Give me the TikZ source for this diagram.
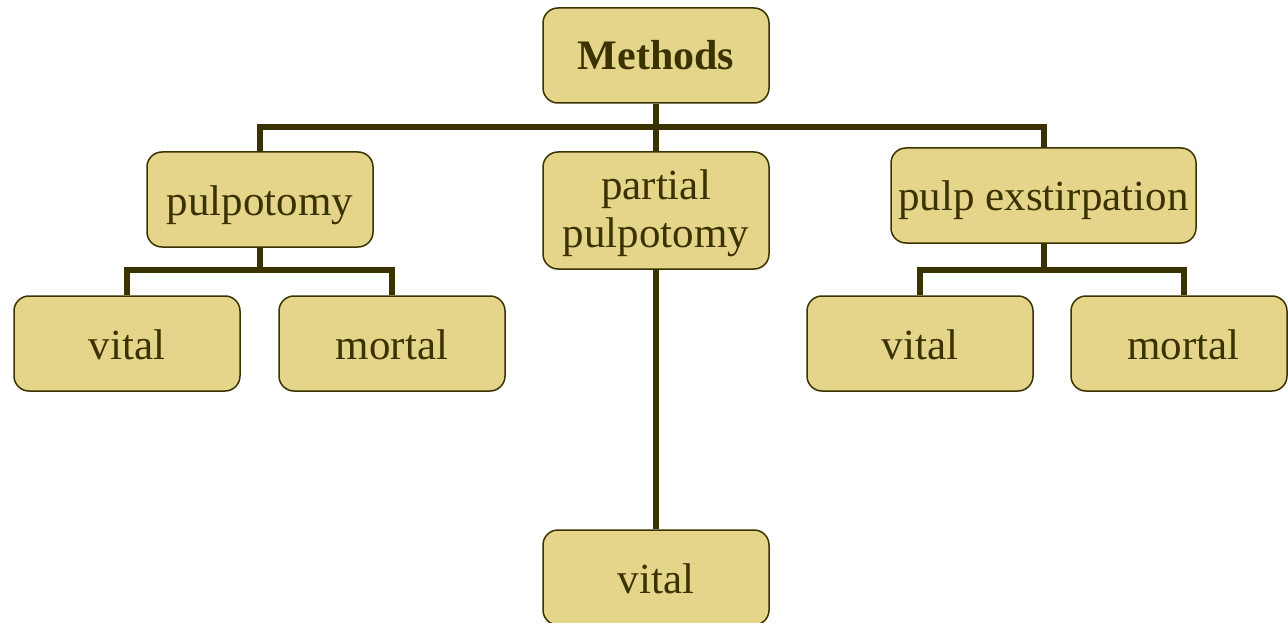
\documentclass[tikz,border=0pt]{standalone}
\usepackage{fontspec}
\setmainfont{Liberation Serif}
\definecolor{boxfill}{HTML}{E5D58A}
\definecolor{olive}{HTML}{3A3300}
\begin{document}
\begin{tikzpicture}[x=1pt,y=-1pt,
  box/.style={draw=olive, line width=1.5pt, fill=boxfill, rounded corners=15pt,
    minimum width=226pt, minimum height=95pt, inner sep=0pt, align=center,
    text=olive, font=\fontsize{43}{47}\selectfont, text height=31pt, text depth=0pt},
  txt/.style={inner sep=0pt, text=olive, font=\fontsize{43}{47}\selectfont, anchor=base},
  link/.style={draw=olive, line width=6pt}]
\useasboundingbox (0,0) rectangle (1288,623);
\node[box, font=\fontsize{42}{47}\selectfont\bfseries, text height=29pt] (m) at (656,55.5) {Methods};
\node[box] (p) at (260,199.5) {pulpotomy};
\node[box, minimum height=117pt, text height=0pt] (pp) at (656,210.5) {};
\node[txt] (pp1) at (656,200) {partial};
\node[txt] (pp2) at (656,247) {pulpotomy};
\node[box, minimum width=305pt] (pe) at (1043.5,195.5) {pulp exstirpation};
\node[box] (v1) at (127,343.5) {vital};
\node[box] (m1) at (392,343.5) {mortal};
\node[box] (v2) at (920,343.5) {vital};
\node[box, minimum width=216pt] (m2) at (1179,343.5) {\hspace*{9pt}mortal};
\node[box] (v3) at (656,577.5) {vital};
\coordinate (j1) at (656,127);
\coordinate (j2) at (260,270);
\coordinate (j3) at (1043.5,270);
\draw[link] (m.south) -- (pp.north);
\draw[link] (pp.south) -- (v3.north);
\draw[link] (p.north) |- (j1) -| (pe.north);
\draw[link] (p.south) -- (j2);
\draw[link] (v1.north) |- (j2) -| (m1.north);
\draw[link] (pe.south) -- (j3);
\draw[link] (v2.north) |- (j3) -| ([xshift=5pt]m2.north);
\end{tikzpicture}
\end{document}
